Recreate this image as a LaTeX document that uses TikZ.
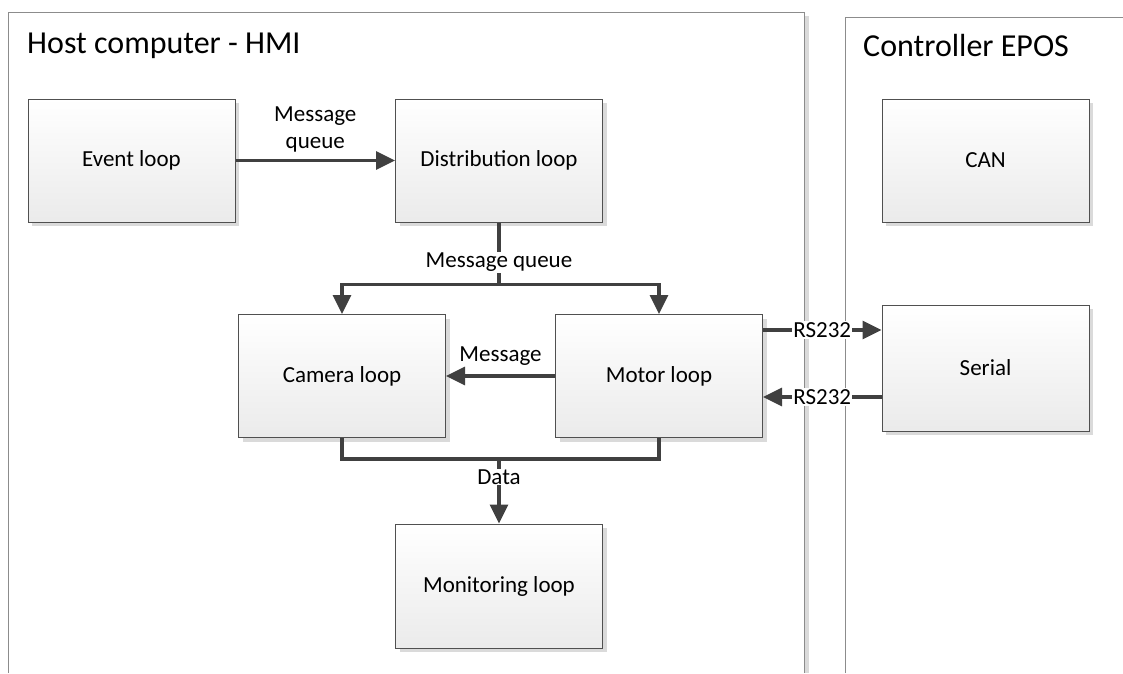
\documentclass[tikz,border=0pt]{standalone}
\usepackage{fontspec}
\setmainfont{Carlito}
\usetikzlibrary{arrows.meta,calc}
\definecolor{lnc}{HTML}{404040}
\definecolor{bdc}{HTML}{505050}
\definecolor{ctc}{HTML}{8C8C8C}
\definecolor{shc}{HTML}{DADADA}
\tikzset{
  procbox/.style={draw=bdc, line width=1pt, top color=white, bottom color=black!8,
    minimum width=207pt, minimum height=123pt, inner sep=0pt,
    font=\fontsize{23}{27}\selectfont,
    preaction={fill=shc, transform canvas={xshift=4pt,yshift=-4pt}}},
  conn/.style={draw=lnc, line width=3.2pt},
  arr/.style={conn, -{Triangle[length=19pt,width=18pt]}},
  lbl/.style={font=\fontsize{23}{27}\selectfont, inner sep=1pt, align=center},
  title/.style={font=\fontsize{32}{36}\selectfont, anchor=base west, inner sep=0pt},
  cont/.style={draw=ctc, line width=1pt}
}
\begin{document}
\begin{tikzpicture}[x=1pt,y=-1pt]
\useasboundingbox (0,0) rectangle (1123,673);
% containers
\fill[shc] (804.5,16) rectangle (808.5,673);
\draw[cont] (8,673) -- (8,12) -- (804,12) -- (804,673);
\draw[cont] (845,673) -- (845,17) -- (1130,17);
\node[title] (hosttitle) at (27,53) {Host computer - HMI};
\node[title] (ctrltitle) at (863,56) {Controller EPOS};
% boxes
\node[procbox] (ev)   at (131.5,160.5) {Event loop};
\node[procbox] (dist) at (499,160.5) {Distribution loop};
\node[procbox] (cam)  at (342,376) {Camera loop};
\node[procbox] (mot)  at (659,376) {Motor loop};
\node[procbox, minimum height=124pt] (mon)  at (499,586) {Monitoring loop};
\node[procbox] (can)  at (985.5,160.5) {CAN};
\node[procbox, minimum height=126pt] (ser)  at (985.5,368) {Serial};
% connectors
\draw[arr] (ev) -- node[lbl, above=6pt] {Message\\queue} (dist);
\coordinate (busc) at ($(dist.south)+(0,62)$);
\draw[conn] (dist.south) -- (busc);
\draw[arr] (busc) -| (cam.north);
\draw[arr] (busc) -| (mot.north);
\node[lbl, fill=white] (mq) at ($(dist.south)+(0,40)$) {Message queue};
\draw[arr] (mot.west) -- node[lbl, above=8pt] {Message} (cam.east);
\coordinate (datac) at ($(cam.south)+(157,21)$);
\draw[conn] (cam.south) -- ++(0,21) -| (mot.south);
\draw[arr] (datac) -- (mon.north);
\node[lbl, fill=white] (dl) at ($(datac)+(0,18)$) {Data};
\draw[arr] (mot.east |- 0,330) -- node[lbl, fill=white] {RS232} (ser.west |- 0,330);
\draw[arr] (ser.west |- 0,397) -- node[lbl, fill=white] {RS232} (mot.east |- 0,397);
\end{tikzpicture}
\end{document}
